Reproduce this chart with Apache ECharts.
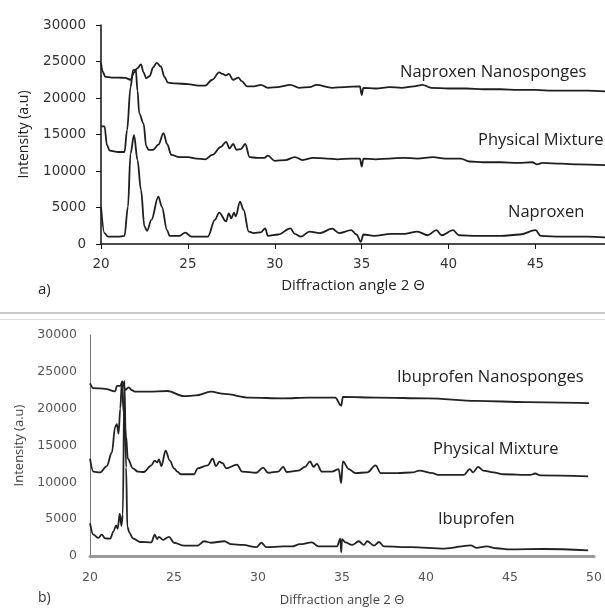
<!DOCTYPE html>
<html>
<head>
<meta charset="utf-8">
<script src="https://cdn.jsdelivr.net/npm/echarts@6/dist/echarts.min.js"></script>
<style>
html,body{margin:0;padding:0;background:#fff}
#chart{width:605px;height:608px}
</style>
</head>
<body>
<div id="chart"></div>
<script>
// values: [2θ, intensity]
var naproxenNano = [[20.0,24800],[20.1,23600],[20.25,22900],[20.6,22800],[21.0,22800],[21.4,22750],[21.7,22500],[21.9,23500],[22.1,24100],[22.3,24600],[22.45,23500],[22.6,22700],[22.8,23000],[23.0,24200],[23.2,24800],[23.45,24300],[23.65,22900],[23.85,22100],[24.3,22000],[25.0,21900],[25.6,21700],[26.0,21700],[26.4,22500],[26.8,23500],[27.0,23300],[27.2,23100],[27.35,23300],[27.6,22500],[27.9,22800],[28.1,22300],[28.4,21600],[28.8,21600],[29.2,21800],[29.6,21400],[30.2,21500],[30.9,21800],[31.4,21400],[32.0,21500],[32.4,21800],[33.3,21400],[34.0,21500],[34.9,21600],[35.0,20400],[35.1,21400],[35.8,21300],[36.6,21500],[37.3,21400],[38.0,21600],[38.5,21800],[39.0,21400],[40.0,21300],[41.0,21300],[42.0,21200],[43.0,21200],[44.0,21100],[45.0,21100],[46.0,21000],[47.0,21000],[48.0,21000],[49.0,20900]];
var physicalA = [[20.0,16100],[20.2,16100],[20.35,13500],[20.5,12800],[21.0,12600],[21.35,12600],[21.5,15600],[21.7,21500],[21.85,23800],[22.0,23900],[22.1,21000],[22.2,17900],[22.45,16500],[22.6,13400],[22.75,12900],[23.0,12900],[23.3,13600],[23.6,15200],[23.8,13700],[24.05,12200],[24.5,11900],[25.0,11900],[25.5,11700],[26.0,11600],[26.4,12200],[26.9,13300],[27.2,14000],[27.4,13100],[27.6,13700],[27.8,12900],[28.05,13000],[28.3,13700],[28.55,11900],[29.0,11800],[29.4,11800],[29.6,12100],[30.0,11400],[30.6,11500],[31.15,11900],[31.6,11500],[32.2,11800],[33.0,11700],[33.6,11600],[34.4,11700],[34.9,11700],[35.0,10600],[35.1,11700],[35.8,11600],[36.6,11700],[37.4,11800],[38.2,11700],[39.1,11900],[39.8,11700],[40.7,11700],[41.2,11300],[42.0,11200],[43.0,11200],[44.0,11100],[44.8,11200],[45.1,10900],[45.4,11100],[46.5,11000],[47.5,10900],[49.0,10800]];
var naproxen = [[20.0,5100],[20.2,1500],[20.4,1000],[21.0,1000],[21.35,1100],[21.55,5100],[21.7,12400],[21.9,14900],[22.1,11500],[22.3,7400],[22.5,2400],[22.65,1800],[22.9,3300],[23.3,6500],[23.5,5100],[23.8,1900],[23.95,1100],[24.5,1100],[24.85,1550],[25.2,1000],[26.15,1000],[26.55,3300],[26.8,4300],[27.2,3100],[27.35,4200],[27.5,3500],[27.65,4300],[27.75,3800],[28.0,5800],[28.2,4700],[28.5,1700],[28.8,1500],[29.2,1600],[29.45,2150],[29.6,1100],[30.2,1300],[30.9,2150],[31.15,1400],[31.5,1000],[32.0,1700],[32.6,1500],[33.3,2100],[33.7,1500],[34.4,1900],[34.7,1300],[34.95,300],[35.1,1300],[35.7,1100],[36.7,1400],[37.5,1400],[38.2,1700],[38.8,1200],[39.3,1900],[39.6,1200],[40.25,1900],[40.6,1200],[41.65,1100],[43.0,1100],[44.1,1300],[45.0,1900],[45.3,1100],[46.5,1000],[47.2,1000],[48.0,1000],[49.0,900]];

var ibuprofenNano = [[20.0,23450],[20.2,22800],[20.9,22700],[21.5,22350],[21.6,23100],[21.8,23100],[21.93,23700],[22.1,22550],[22.3,22900],[22.5,22500],[22.7,22300],[23.5,22300],[24.6,22400],[25.6,21700],[26.3,21800],[27.2,22300],[28.0,22000],[29.5,21500],[31.5,21400],[33.0,21500],[34.6,21500],[34.95,20400],[35.05,21600],[37.1,21500],[40.1,21400],[43.0,21050],[46.0,20900],[49.7,20750]];
var physicalB = [[20.0,13200],[20.2,11450],[20.6,11350],[21.0,12200],[21.3,14050],[21.5,17550],[21.6,17900],[21.7,16600],[21.8,20000],[21.9,23650],[22.0,19500],[22.15,16250],[22.25,13200],[22.55,11900],[22.85,11450],[23.2,11400],[23.65,12300],[23.85,12950],[24.0,12700],[24.1,13100],[24.25,12200],[24.5,14300],[24.75,12950],[25.0,11900],[25.2,11450],[25.4,11100],[26.2,11100],[26.4,11900],[27.0,12300],[27.3,13200],[27.5,12200],[27.7,12800],[27.9,12600],[28.1,11900],[28.75,12400],[29.05,11450],[29.9,11300],[30.3,12000],[30.6,11300],[31.2,11450],[31.5,12100],[31.7,11400],[32.4,11600],[32.8,12100],[33.1,12850],[33.3,12100],[33.5,12500],[33.8,11450],[34.4,11450],[34.8,11800],[34.95,9900],[35.05,12850],[35.4,11800],[35.8,11250],[36.5,11350],[37.0,12300],[37.3,11250],[38.3,11250],[39.2,11350],[39.6,11600],[40.4,11250],[40.7,11000],[42.25,11000],[42.6,11800],[42.8,11350],[43.1,12100],[43.4,11600],[44.0,11350],[44.6,11100],[46.2,11000],[46.5,11200],[46.8,10950],[49.65,10800]];
var ibuprofen = [[20.0,4450],[20.2,2900],[20.5,2450],[20.7,2900],[20.9,2400],[21.2,2350],[21.4,3350],[21.55,4150],[21.65,3700],[21.77,5750],[21.87,4100],[21.95,5600],[22.05,23800],[22.15,12000],[22.22,4000],[22.35,3150],[22.55,2400],[23.0,1900],[23.65,1850],[23.85,2900],[24.0,2300],[24.1,2600],[24.35,2200],[24.7,2600],[25.0,1800],[25.6,1400],[26.4,1400],[26.8,2000],[27.2,1800],[28.0,2000],[28.4,1600],[29.1,1500],[29.9,1200],[30.2,1800],[30.5,1200],[31.5,1300],[32.0,1300],[32.5,1600],[33.2,1850],[33.6,1300],[34.7,1300],[34.9,2350],[34.95,500],[35.0,2300],[35.2,1850],[35.6,1500],[36.0,2000],[36.3,1500],[36.5,2000],[36.9,1400],[37.2,1900],[37.5,1300],[39.1,1200],[41.1,1000],[42.65,1450],[43.0,1100],[43.6,1300],[44.2,1050],[45.0,900],[47.0,950],[49.65,750]];

var seriesNamesA = ['Naproxen Nanosponges', 'Physical Mixture', 'Naproxen'];
var seriesNamesB = ['Ibuprofen Nanosponges', 'Physical Mixture', 'Ibuprofen'];

var chart = echarts.init(document.getElementById('chart'));

function trace(name, data, idx, color) {
    return {
        name: name,
        type: 'line',
        xAxisIndex: idx,
        yAxisIndex: idx,
        data: data,
        showSymbol: false,
        smooth: 0.35,
        smoothMonotone: 'x',
        lineStyle: {color: color, width: 1.8},
        animation: false
    };
}

var labelFont = '"Open Sans", Lato, sans-serif';
function plain(v) { return String(v); }
function note(text, x, y) {
    return {type: 'text', left: x, top: y, style: {text: text, font: '16.5px ' + labelFont, fill: '#222'}};
}

var option = {
    backgroundColor: '#fff',
    grid: [
        {left: 101, top: 25, width: 504, height: 219},
        {left: 90, top: 335, width: 505, height: 229}
    ],
    xAxis: [
        {
            type: 'value', gridIndex: 0, min: 20, max: 49, interval: 5,
            name: 'Diffraction angle 2 Θ', nameLocation: 'middle', nameGap: 34,
            nameTextStyle: {fontFamily: labelFont, fontSize: 15, color: '#222'},
            axisLine: {lineStyle: {color: '#111', width: 1.5}},
            axisTick: {show: true, length: 5, lineStyle: {color: '#111'}},
            axisLabel: {fontFamily: 'DejaVu Sans', fontSize: 13.5, color: '#333', margin: 13, showMaxLabel: false, formatter: plain},
            splitLine: {show: false}
        },
        {
            type: 'value', gridIndex: 1, min: 20, max: 50, interval: 5,
            name: 'Diffraction angle 2 Θ', nameLocation: 'middle', nameGap: 38,
            nameTextStyle: {fontFamily: labelFont, fontSize: 13, color: '#444'},
            axisLine: {lineStyle: {color: '#9a9a9a', width: 3}},
            axisTick: {show: false},
            axisLabel: {fontFamily: 'DejaVu Sans', fontSize: 12.5, color: '#555', margin: 15, formatter: plain},
            splitLine: {show: false}
        }
    ],
    yAxis: [
        {
            type: 'value', gridIndex: 0, min: 0, max: 30000, interval: 5000,
            name: 'Intensity (a.u)', nameLocation: 'middle', nameGap: 70,
            nameTextStyle: {fontFamily: labelFont, fontSize: 14, color: '#222'},
            axisLine: {show: true, lineStyle: {color: '#111', width: 1.5}},
            axisTick: {show: true, length: 5, lineStyle: {color: '#111'}},
            axisLabel: {fontFamily: 'DejaVu Sans', fontSize: 13.5, color: '#333', margin: 15, formatter: plain},
            splitLine: {show: false}
        },
        {
            type: 'value', gridIndex: 1, min: 0, max: 30000, interval: 5000,
            name: 'Intensity (a.u)', nameLocation: 'middle', nameGap: 64,
            nameTextStyle: {fontFamily: labelFont, fontSize: 13, color: '#444'},
            axisLine: {show: true, lineStyle: {color: '#777', width: 1}},
            axisTick: {show: false},
            axisLabel: {fontFamily: 'DejaVu Sans', fontSize: 12.5, color: '#555', margin: 13, formatter: plain},
            splitLine: {show: false}
        }
    ],
    graphic: [
        note(seriesNamesA[0], 400, 64),
        note(seriesNamesA[1], 478, 132),
        note(seriesNamesA[2], 508, 204),
        note(seriesNamesB[0], 397, 369),
        note(seriesNamesB[1], 433, 441),
        note(seriesNamesB[2], 438, 511),
        {type: 'text', left: 38, top: 282, style: {text: 'a)', font: '15px ' + labelFont, fill: '#222'}},
        {type: 'text', left: 38, top: 591, style: {text: 'b)', font: '14px ' + labelFont, fill: '#333'}},
        {type: 'rect', left: 0, top: 312, shape: {width: 605, height: 2}, style: {fill: '#c8c8c8'}},
        {type: 'rect', left: 0, top: 319, shape: {width: 605, height: 1}, style: {fill: '#dcdcdc'}}
    ],
    series: [
        trace(seriesNamesA[0], naproxenNano, 0, '#1e1e1e'),
        trace(seriesNamesA[1], physicalA, 0, '#1e1e1e'),
        trace(seriesNamesA[2], naproxen, 0, '#1e1e1e'),
        trace(seriesNamesB[0], ibuprofenNano, 1, '#222'),
        trace(seriesNamesB[1], physicalB, 1, '#222'),
        trace(seriesNamesB[2], ibuprofen, 1, '#222')
    ]
};
chart.setOption(option);
</script>
</body>
</html>
